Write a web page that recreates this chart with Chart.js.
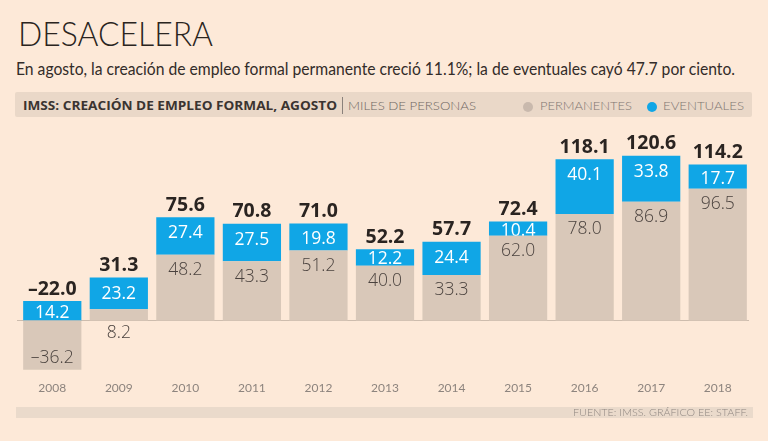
<!DOCTYPE html>
<html lang="es">
<head>
    <meta charset="UTF-8">
    <title>Desacelera - Empleo formal IMSS</title>
    <style>
        :root {
            --fondo: #fde9d8;
            --banda: #ead8c8;
            --azul: #10a6e6;
            --beige: #d9c8b9;
            --gris-texto: #8a817b;
        }

        body {
            margin: 0;
            background-color: var(--fondo);
            font-family: 'Lato', sans-serif;
        }

        #lienzo {
            position: relative;
            width: 768px;
            height: 441px;
            overflow: hidden;
        }

        .txt {
            position: absolute;
            white-space: nowrap;
            line-height: 1;
            transform-origin: 0 0;
        }

        #titulo { left: 18px; top: 16.7px; font-size: 33px; font-weight: 300; color: #2a2420; }
        #subtitulo { left: 16px; top: 61.4px; font-size: 16.5px; font-weight: 400; color: #332c29; }

        #banda {
            position: absolute;
            left: 15px; top: 92px;
            width: 737px; height: 25px;
            background-color: var(--banda);
            border-radius: 2px;
        }

        #encabezado { left: 23px; top: 99.6px; font-family: 'Open Sans', sans-serif; font-size: 12.5px; font-weight: 700; color: #3b3431; }
        #separador { position: absolute; left: 342px; top: 97px; width: 1px; height: 17px; background-color: #8a817b; }
        #unidades { left: 348px; top: 99.6px; font-size: 12.5px; font-weight: 300; color: #6f6762; }
        .punto { position: absolute; width: 10px; height: 10px; border-radius: 50%; top: 101.5px; }
        #puntoPerm { left: 523px; background-color: #c9b9ad; }
        #puntoEven { left: 647px; background-color: var(--azul); }
        #leyPerm { left: 540px; top: 99.6px; font-size: 12.5px; font-weight: 300; color: #7e7671; }
        #leyEven { left: 663px; top: 99.6px; font-size: 12.5px; font-weight: 300; color: #7e7671; }

        #pie {
            position: absolute;
            left: 16px; top: 407px;
            width: 737px; height: 11px;
            background-color: #eadacb;
        }
        #fuente { left: 573px; top: 406.7px; font-size: 10.5px; font-weight: 300; color: #8f8680; }

        #grafica {
            position: absolute;
            left: 0; top: 130px;
        }
    </style>
</head>
<body>
    <div id="lienzo">
        <div id="titulo" class="txt" data-w="195">DESACELERA</div>
        <div id="subtitulo" class="txt" data-w="719">En agosto, la creación de empleo formal permanente creció 11.1%; la de eventuales cayó 47.7 por ciento.</div>

        <div id="banda"></div>
        <div id="encabezado" class="txt" data-w="314">IMSS: CREACIÓN DE EMPLEO FORMAL, AGOSTO</div>
        <div id="separador"></div>
        <div id="unidades" class="txt" data-w="128">MILES DE PERSONAS</div>
        <div id="puntoPerm" class="punto"></div>
        <div id="leyPerm" class="txt" data-w="92">PERMANENTES</div>
        <div id="puntoEven" class="punto"></div>
        <div id="leyEven" class="txt" data-w="81">EVENTUALES</div>

        <canvas id="grafica" width="768" height="290"></canvas>

        <div id="pie"></div>
        <div id="fuente" class="txt" data-w="175">FUENTE: IMSS. GRÁFICO EE: STAFF.</div>
    </div>

    <script src="https://cdn.jsdelivr.net/npm/chart.js"></script>
    <script>
        // Datos (miles de personas)
        const anios = ['2008', '2009', '2010', '2011', '2012', '2013', '2014', '2015', '2016', '2017', '2018'];
        const permanentes = [-36.2, 8.2, 48.2, 43.3, 51.2, 40.0, 33.3, 62.0, 78.0, 86.9, 96.5];
        const eventuales = [14.2, 23.2, 27.4, 27.5, 19.8, 12.2, 24.4, 10.4, 40.1, 33.8, 17.7];
        const totales = [-22.0, 31.3, 75.6, 70.8, 71.0, 52.2, 57.7, 72.4, 118.1, 120.6, 114.2];

        // Ajusta el ancho de los textos al de la referencia
        function ajustarTextos() {
            document.querySelectorAll('.txt[data-w]').forEach(el => {
                el.style.transform = 'none';
                const w = el.getBoundingClientRect().width;
                const objetivo = parseFloat(el.dataset.w);
                if (w > 0) el.style.transform = `scaleX(${objetivo / w})`;
            });
        }

        function fmt(v) {
            return v < 0 ? '\u2013' + Math.abs(v).toFixed(1) : v.toFixed(1);
        }

        // Línea del cero, etiquetas de valores y años
        const etiquetas = {
            id: 'etiquetas',
            beforeDatasetsDraw(chart) {
                const { ctx, scales: { y } } = chart;
                const y0 = Math.round(y.getPixelForValue(0)) + 0.5;
                ctx.save();
                ctx.strokeStyle = '#cdbcad';
                ctx.lineWidth = 1;
                ctx.beginPath();
                ctx.moveTo(17, y0);
                ctx.lineTo(749, y0);
                ctx.stroke();
                ctx.restore();
            },
            afterDatasetsDraw(chart) {
                const { ctx, chartArea, scales: { x, y } } = chart;
                const perm = chart.getDatasetMeta(0).data;
                const even = chart.getDatasetMeta(1).data;
                const y0 = y.getPixelForValue(0);

                ctx.save();
                ctx.textAlign = 'center';

                anios.forEach((anio, i) => {
                    const cx = x.getPixelForValue(i);
                    const bp = perm[i];
                    const be = even[i];
                    const pTop = Math.min(bp.y, bp.base), pBot = Math.max(bp.y, bp.base);
                    const eTop = Math.min(be.y, be.base), eBot = Math.max(be.y, be.base);

                    // permanentes
                    let py;
                    if (permanentes[i] < 0) py = pBot - 12;
                    else if (pBot - pTop < 25) py = y0 + 13;
                    else py = pTop + 15.5;
                    ctx.font = '300 17.5px "Open Sans", sans-serif';
                    ctx.fillStyle = '#4a423e';
                    ctx.textBaseline = 'middle';
                    ctx.fillText(fmt(permanentes[i]), cx, py);

                    // eventuales (recortado al segmento azul)
                    const h = eBot - eTop;
                    ctx.save();
                    ctx.beginPath();
                    ctx.rect(cx - 40, eTop, 80, h);
                    ctx.clip();
                    ctx.font = '500 17.5px "Open Sans", sans-serif';
                    ctx.fillStyle = '#ffffff';
                    ctx.fillText(fmt(eventuales[i]), cx, eTop + Math.min(16, h / 2 + 2));
                    ctx.restore();

                    // total
                    ctx.font = '700 19.5px "Open Sans", sans-serif';
                    ctx.fillStyle = '#2a2421';
                    ctx.textBaseline = 'alphabetic';
                    ctx.fillText(fmt(totales[i]), cx, Math.min(pTop, eTop) - 6.5);

                    // año
                    ctx.font = '400 12px "Lato", sans-serif';
                    ctx.fillStyle = '#8d847e';
                    ctx.textBaseline = 'middle';
                    ctx.fillText(anio, cx, chartArea.bottom + 13.5);
                });
                ctx.restore();
            }
        };

        new Chart(document.getElementById('grafica').getContext('2d'), {
            type: 'bar',
            data: {
                labels: anios,
                datasets: [
                    {
                        label: 'Permanentes',
                        data: permanentes,
                        backgroundColor: '#d9c8b9',
                        borderWidth: 0,
                        categoryPercentage: 1,
                        barPercentage: 0.875
                    },
                    {
                        label: 'Eventuales',
                        data: eventuales,
                        backgroundColor: '#10a6e6',
                        borderWidth: 0,
                        categoryPercentage: 1,
                        barPercentage: 0.875
                    }
                ]
            },
            options: {
                responsive: false,
                animation: false,
                layout: { padding: { left: 19, right: 17, top: 13, bottom: 45 } },
                plugins: {
                    legend: { display: false },
                    tooltip: { enabled: false }
                },
                scales: {
                    x: { stacked: true, display: false },
                    y: { stacked: true, display: false, min: -40, max: 130 }
                }
            },
            plugins: [etiquetas]
        });

        ajustarTextos();
        if (document.fonts) document.fonts.ready.then(ajustarTextos);
    </script>
</body>
</html>
